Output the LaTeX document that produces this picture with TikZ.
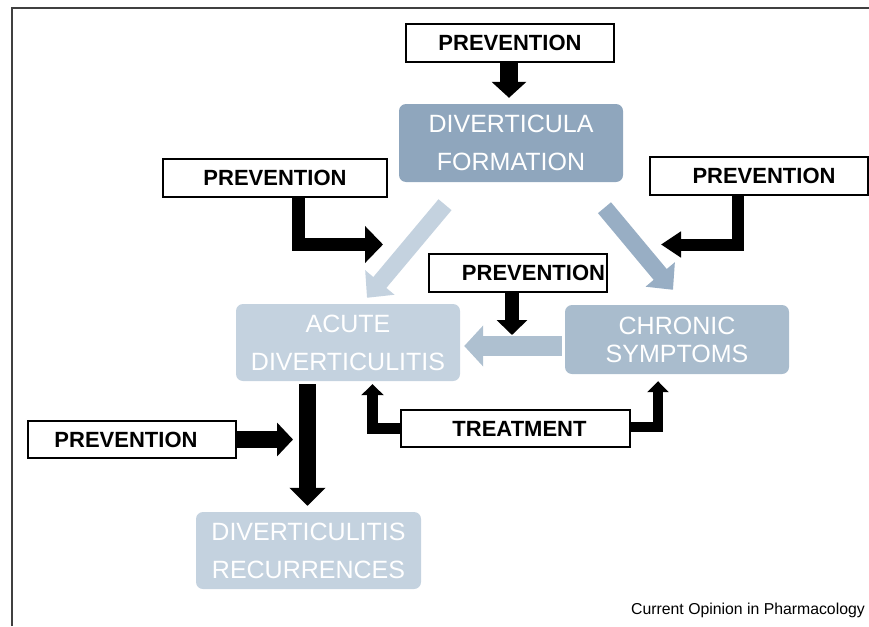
\documentclass[tikz,border=0pt]{standalone}
\usepackage{fontspec}
\setmainfont{Liberation Sans}
\usetikzlibrary{arrows.meta}

\definecolor{formblue}{HTML}{8FA6BD}
\definecolor{paleblue}{HTML}{C4D2DF}
\definecolor{midblue}{HTML}{A9BCCD}
\definecolor{diagblue}{HTML}{98AEC4}
\definecolor{flowblue}{HTML}{AEC0D0}

\begin{document}
\begin{tikzpicture}[x=1pt, y=-1pt, line join=miter,
    blockarrow/.style n args={3}{draw=black, line width=#1, -{Triangle[length=#2, width=#3]}}]
    \tikzstyle{stage}=[rounded corners=7pt, inner sep=0pt, text=white, align=center, minimum width=224pt, minimum height=77pt, font=\fontsize{25}{38}\selectfont]
    \tikzstyle{action}=[draw=black, line width=1.8pt, fill=white, inner sep=0pt, minimum height=38pt, font=\fontsize{22}{26}\selectfont\bfseries]

    \useasboundingbox (0,0) rectangle (869,626);
    \draw[line width=1.6pt, black!75] (12,626) |- (869,8);

    % disease stages
    \node[stage, fill=formblue, minimum height=78pt] at (511,143) (formation) {DIVERTICULA\\FORMATION};
    \node[stage, fill=paleblue] at (348,342.5) (acute) {ACUTE\\DIVERTICULITIS};
    \node[stage, fill=midblue, minimum height=69pt, font=\fontsize{25}{28}\selectfont] at (677,339.5) (chronic) {CHRONIC\\SYMPTOMS};
    \node[stage, fill=paleblue, minimum width=225pt] at (308.5,550.5) (recur) {DIVERTICULITIS\\RECURRENCES};

    % interventions
    \node[action, minimum width=208pt] at (510,43) (prevTop) {PREVENTION};
    \node[action, minimum width=224pt] at (275,178) (prevLeft) {PREVENTION};
    \node[action, minimum width=218pt] at (759,176) (prevRight) {\hspace*{10pt}PREVENTION};
    \node[action, text width=174pt, align=right, inner xsep=2pt] at (518,273) (prevMid) {PREVENTION};
    \node[action, minimum width=208pt, minimum height=37pt] at (132,439.5) (prevBottom) {PREVENTION\hspace*{12pt}};
    \node[action, minimum width=229pt, minimum height=37pt] at (515.5,428.5) (treat) {\hspace*{8pt}TREATMENT};

    \node[anchor=base east, inner sep=0pt, font=\fontsize{15.8}{18}\selectfont] at (865,614) (source) {Current Opinion in Pharmacology};

    \coordinate (leftTip) at (383,244.5);
    \coordinate (rightTip) at (661,244.5);
    \coordinate (midTip) at (512,335);
    \coordinate (bottomTip) at (293,439.5);

    % course of the disease
    \path
    ([xshift=-66pt, yshift=-22.5pt]formation.south) edge[blockarrow={17pt}{20pt}{37pt}, draw=paleblue] ([xshift=19pt, yshift=6pt]acute.north)
    ([xshift=93.5pt, yshift=-25.5pt]formation.south) edge[blockarrow={17pt}{20pt}{37pt}, draw=diagblue] ([xshift=-4pt, yshift=15pt]chronic.north)
    ([xshift=-3pt, yshift=-6.5pt]chronic.west) edge[blockarrow={20pt}{19pt}{40pt}, draw=flowblue] ([xshift=4pt, yshift=-3.5pt]acute.east);

    % where prevention and treatment act
    \draw[blockarrow={18pt}{16pt}{34pt}] ([xshift=-1pt]prevTop.south) -- ([xshift=-2pt, yshift=6pt]formation.north);
    \draw[blockarrow={13pt}{18pt}{36pt}] ([xshift=23.5pt]prevLeft.south) |- (leftTip);
    \draw[blockarrow={12pt}{20pt}{25pt}] ([xshift=-21pt]prevRight.south) |- (rightTip);
    \draw[blockarrow={14pt}{15pt}{30pt}] ([xshift=-6pt]prevMid.south) -- (midTip);
    \draw[blockarrow={17pt}{18pt}{35pt}] ([xshift=-40.5pt, yshift=-3pt]acute.south) -- ([xshift=-1pt, yshift=6pt]recur.north);
    \draw[blockarrow={17pt}{16pt}{33pt}] (prevBottom.east) -- (bottomTip);
    \draw[blockarrow={10.5pt}{11pt}{22pt}] (treat.west) -| ([xshift=24.5pt, yshift=-3pt]acute.south);
    \draw[blockarrow={10pt}{11pt}{21pt}] ([yshift=2pt]treat.east) -| ([xshift=-19pt, yshift=-7pt]chronic.south);
\end{tikzpicture}
\end{document}
